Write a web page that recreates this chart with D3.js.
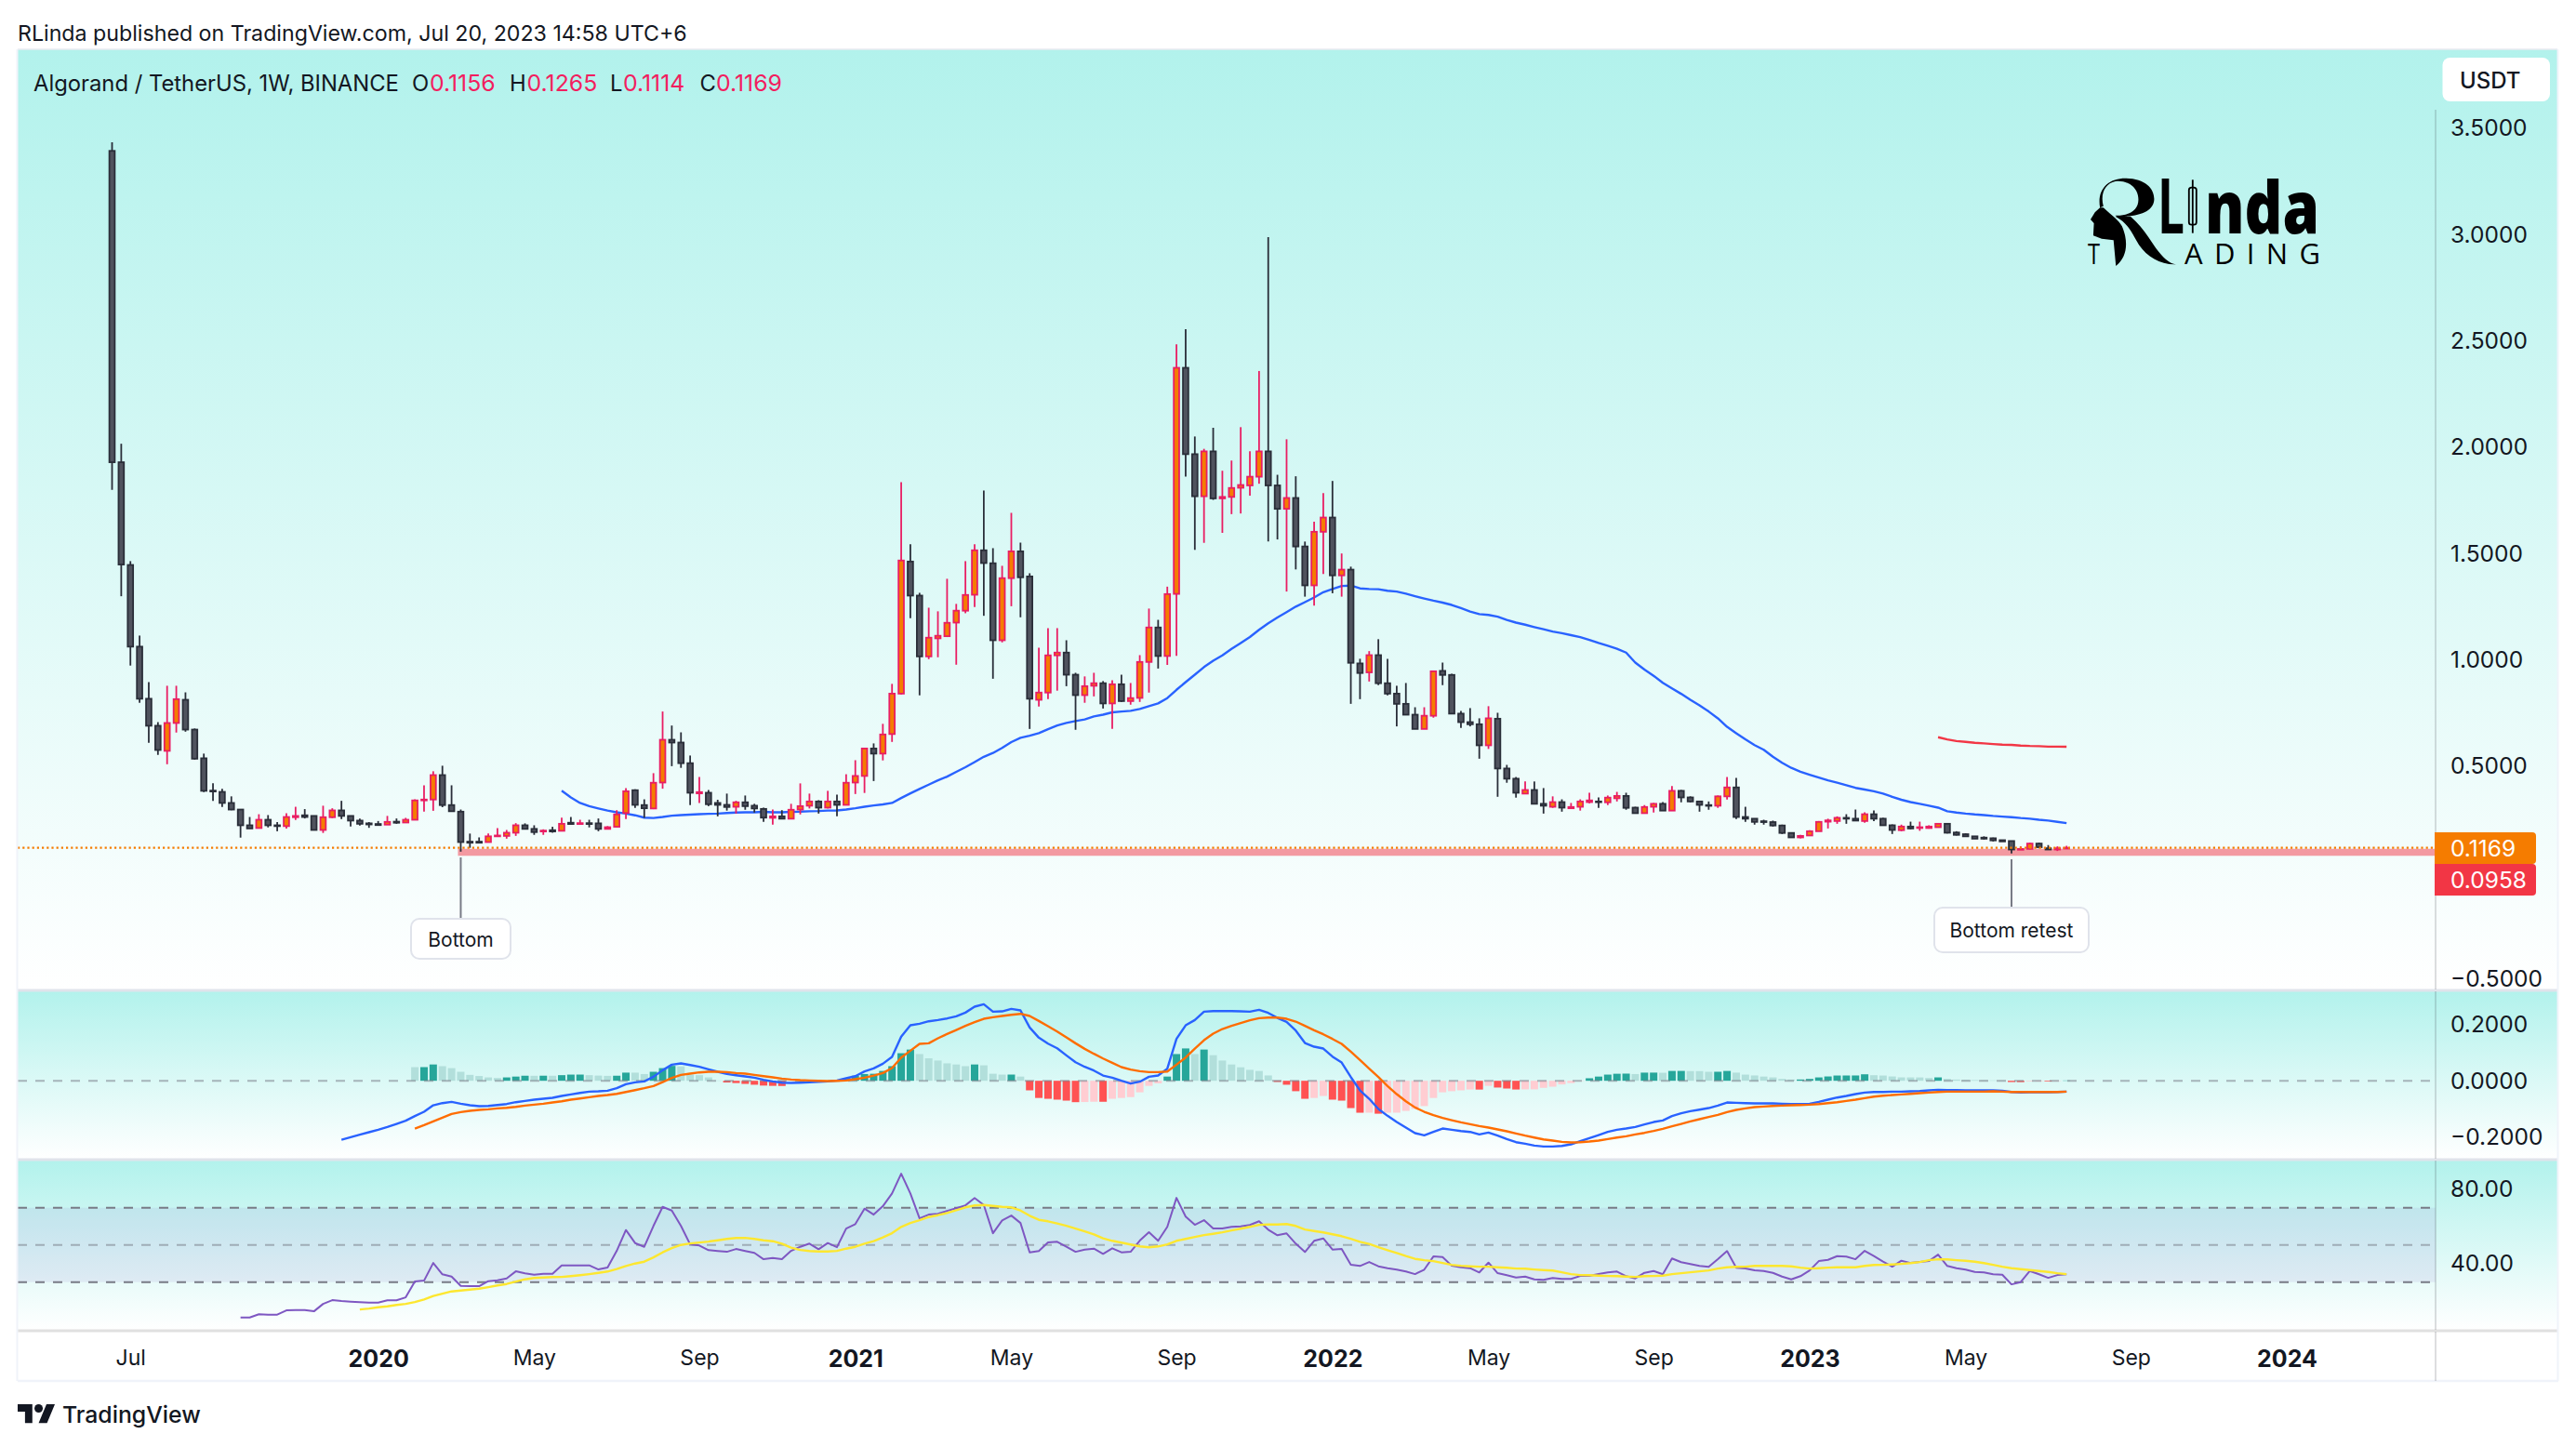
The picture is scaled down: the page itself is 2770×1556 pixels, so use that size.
<!DOCTYPE html>
<html>
<head>
<meta charset="utf-8">
<script src="https://cdn.jsdelivr.net/npm/d3@7"></script>
<style>
  html, body { margin: 0; padding: 0; background: #fff; }
  text { font-family: Inter, "Noto Sans", sans-serif; fill: #131722; }
</style>
</head>
<body>
<svg id="chart" width="2770" height="1556"></svg>
<script>
// weekly candles, first bar is the week of 17 Jun 2019
const opens = [
  3.394,1.93,1.447,1.063,.818,.691,.573,.704,.813,.673,
  .538,.386,.380,.328,.297,.223,.210,.249,.223,.219,
  .261,.270,.267,.201,.261,.293,.267,.245,.232,.229,
  .226,.240,.236,.249,.340,.344,.459,.318,.287,.146,
  .146,.144,.171,.173,.188,.223,.206,.194,.200,.197,
  .235,.229,.233,.232,.206,.216,.281,.388,.318,.302,
  .424,.625,.612,.515,.373,.376,.328,.319,.310,.331,
  .315,.300,.258,.265,.254,.297,.315,.335,.306,.335,
  .319,.424,.455,.584,.560,.652,.842,1.463,1.303,1.017,
  1.102,1.112,1.176,1.232,1.307,1.516,1.455,1.093,1.385,1.511,
  1.393,.813,.847,1.022,1.035,.931,.835,.879,.891,.796,
  .886,.807,.822,.991,1.153,1.019,1.311,2.374,1.968,1.770,
  1.981,1.760,1.767,1.810,1.821,1.862,1.981,1.821,1.711,1.762,
  1.534,1.351,1.603,1.670,1.398,1.425,.984,.942,1.023,.891,
  .842,.794,.743,.676,.738,.949,.930,.748,.708,.698,
  .599,.724,.490,.442,.372,.389,.324,.310,.332,.303,
  .310,.332,.335,.331,.350,.361,.306,.280,.310,.324,
  .292,.385,.354,.335,.318,.315,.359,.401,.262,.254,
  .242,.238,.222,.187,.166,.175,.195,.240,.243,.258,
  .254,.243,.275,.254,.223,.200,.217,.210,.210,.214,
  .230,.189,.181,.171,.165,.162,.153,.149,.108,.112,
  .137,.115,.109,.1156];
const highs = [
  3.434,2.017,1.465,1.115,.896,.708,.879,.879,.848,.678,
  .560,.421,.394,.359,.297,.262,.275,.271,.238,.280,
  .310,.299,.267,.315,.303,.338,.267,.254,.238,.243,
  .267,.255,.258,.345,.411,.477,.503,.411,.297,.184,
  .166,.184,.210,.201,.233,.232,.223,.204,.216,.259,
  .262,.249,.249,.255,.219,.294,.398,.392,.345,.468,
  .758,.692,.660,.551,.450,.389,.343,.372,.338,.363,
  .324,.306,.297,.294,.324,.420,.372,.341,.385,.367,
  .463,.529,.584,.608,.700,.888,1.836,1.544,1.316,1.246,
  1.229,1.382,1.264,1.465,1.544,1.797,1.526,1.443,1.692,1.552,
  1.408,1.058,1.150,1.150,1.093,.940,.923,.940,.901,.905,
  .931,.892,1.023,1.242,1.189,1.345,2.485,2.555,2.051,1.993,
  2.092,1.890,1.938,2.095,1.982,2.359,2.988,1.871,2.038,1.864,
  1.557,1.650,1.785,1.842,1.501,1.439,1.006,1.042,1.098,1.006,
  .879,.892,.778,.778,.947,.988,.936,.761,.774,.726,
  .783,.752,.507,.450,.429,.429,.398,.359,.345,.328,
  .345,.376,.354,.363,.380,.376,.310,.318,.328,.332,
  .407,.389,.359,.337,.335,.363,.450,.446,.310,.254,
  .249,.245,.226,.187,.178,.200,.243,.254,.265,.275,
  .297,.284,.293,.258,.227,.226,.240,.240,.223,.232,
  .232,.195,.185,.171,.171,.165,.153,.150,.124,.141,
  .141,.130,.124,.1265];
const lows = [
  1.80,1.30,.974,.799,.611,.554,.510,.659,.663,.532,
  .379,.338,.309,.294,.165,.208,.208,.213,.195,.208,
  .248,.255,.200,.187,.257,.252,.217,.222,.211,.222,
  .226,.230,.235,.248,.287,.291,.308,.287,.099,.117,
  .138,.143,.171,.160,.173,.206,.178,.178,.188,.195,
  .226,.226,.213,.195,.206,.214,.252,.305,.258,.299,
  .395,.501,.493,.318,.328,.313,.265,.292,.278,.296,
  .283,.239,.226,.254,.254,.274,.302,.278,.302,.265,
  .318,.370,.375,.431,.528,.615,.838,1.197,.834,1.004,
  1.013,1.108,.978,1.220,1.249,1.208,.912,1.083,1.253,1.201,
  .676,.781,.816,.856,.877,.672,.799,.829,.772,.676,
  .803,.790,.803,.847,.960,.977,1.020,1.862,1.518,1.551,
  1.753,1.598,1.686,1.689,1.773,1.829,1.557,1.567,1.322,1.426,
  1.298,1.256,1.404,1.314,1.298,.794,.816,.899,.882,.834,
  .688,.743,.676,.676,.729,.882,.748,.681,.688,.536,
  .582,.357,.423,.353,.369,.324,.278,.305,.287,.300,
  .292,.326,.305,.318,.335,.296,.280,.280,.283,.292,
  .292,.331,.331,.287,.296,.305,.344,.252,.239,.226,
  .226,.217,.182,.166,.162,.175,.195,.208,.230,.230,
  .243,.235,.243,.222,.182,.195,.204,.197,.207,.213,
  .184,.175,.169,.160,.156,.147,.147,.090,.108,.109,
  .115,.108,.102,.1114];
const closes = [
  1.93,1.449,1.063,.818,.691,.577,.704,.816,.673,.536,
  .385,.382,.328,.297,.223,.208,.249,.223,.219,.262,
  .267,.262,.201,.261,.293,.267,.245,.230,.227,.224,
  .239,.235,.249,.340,.344,.459,.318,.289,.144,.141,
  .141,.171,.175,.188,.223,.206,.191,.198,.194,.230,
  .229,.233,.229,.206,.214,.274,.383,.319,.303,.423,
  .625,.612,.515,.376,.379,.322,.319,.309,.331,.313,
  .302,.259,.265,.254,.296,.313,.335,.306,.335,.319,
  .423,.455,.584,.560,.650,.842,1.468,1.303,1.017,1.105,
  1.114,1.175,1.232,1.306,1.516,1.456,1.093,1.385,1.511,1.389,
  .818,.847,1.022,1.035,.931,.835,.877,.891,.796,.886,
  .807,.821,.991,1.153,1.019,1.310,2.374,1.968,1.770,1.981,
  1.760,1.767,1.809,1.823,1.862,1.981,1.821,1.711,1.762,1.534,
  1.351,1.603,1.670,1.398,1.425,.987,.939,1.023,.891,.842,
  .794,.743,.676,.738,.947,.930,.748,.708,.698,.599,
  .726,.490,.442,.376,.389,.324,.315,.332,.306,.309,
  .335,.340,.332,.353,.361,.305,.280,.309,.324,.292,
  .385,.354,.335,.319,.315,.359,.401,.262,.254,.239,
  .238,.222,.187,.166,.173,.195,.239,.246,.258,.254,
  .245,.275,.254,.223,.201,.217,.208,.214,.217,.230,
  .188,.178,.171,.160,.160,.152,.147,.109,.112,.137,
  .120,.109,.115,.1169];

// moving averages on the price pane (first value = bar number in the *Start const)
const maFastStart = 49;
const maFast = [
  .386,.354,.328,.313,.302,.292,.284,.278,.270,.259,
  .257,.262,.268,.271,.273,.275,.277,.278,.281,.283,
  .284,.284,.286,.284,.284,.286,.287,.289,.290,.292,
  .293,.297,.303,.310,.316,.321,.328,.351,.373,.394,
  .414,.434,.452,.474,.496,.520,.545,.563,.587,.614,
  .634,.644,.656,.675,.692,.704,.713,.721,.735,.743,
  .754,.758,.761,.770,.783,.796,.821,.860,.896,.931,
  .967,.997,1.022,1.052,1.080,1.108,1.142,1.173,1.200,1.225,
  1.251,1.272,1.294,1.319,1.334,1.348,1.350,1.337,1.334,1.333,
  1.326,1.322,1.312,1.300,1.289,1.279,1.270,1.259,1.244,1.228,
  1.216,1.212,1.204,1.189,1.176,1.166,1.155,1.145,1.134,1.126,
  1.117,1.108,1.095,1.080,1.067,1.053,1.035,.988,.955,.926,
  .893,.867,.841,.813,.787,.758,.726,.686,.656,.627,
  .600,.578,.545,.517,.493,.475,.461,.447,.434,.423,
  .411,.399,.391,.383,.372,.357,.343,.332,.324,.315,
  .306,.289,.283,.278,.274,.271,.267,.264,.261,.257,
  .254,.249,.245,.239,.233];
const maSlowStart = 199;
const maSlow = [.637,.627,.619,.615,.611,.608,.605,.602,.601,.598,.596,.595,.593,.593,.592];

// MACD pane
const macdStart = 25;
const macdLine = [
  -.2094,-.2006,-.1917,-.1829,-.1741,-.1642,-.1532,-.1421,-.1256,-.1102,
  -.0871,-.0793,-.0749,-.0815,-.0871,-.0904,-.0893,-.0860,-.0826,-.0760,
  -.0716,-.0672,-.0639,-.0606,-.0540,-.0485,-.0430,-.0386,-.0375,-.0353,
  -.0264,-.0121,-.0055,-.0022,.0143,.0375,.0573,.0617,.0562,.0496,
  .0408,.0320,.0242,.0198,.0154,.0110,.0033,-.0022,-.0066,-.0077,
  -.0066,-.0055,-.0033,-.0022,.0011,.0088,.0165,.0331,.0441,.0606,
  .0849,.1565,.1972,.2028,.2116,.2160,.2215,.2292,.2424,.2634,
  .2722,.2457,.2468,.2556,.2501,.1895,.1532,.1322,.1157,.0904,
  .0661,.0496,.0364,.0187,.0110,0,-.0099,-.0033,.0143,.0187,
  .0430,.1488,.1972,.2160,.2457,.2479,.2479,.2479,.2468,.2457,
  .2523,.2413,.2237,.2094,.1785,.1344,.1212,.1146,.0860,.0650,
  .0132,-.0342,-.0639,-.1003,-.1245,-.1466,-.1664,-.1862,-.1939,-.1818,
  -.1697,-.1741,-.1785,-.1818,-.1906,-.1840,-.1950,-.2072,-.2182,-.2237,
  -.2303,-.2336,-.2336,-.2314,-.2259,-.2149,-.2039,-.1928,-.1818,-.1741,
  -.1697,-.1642,-.1554,-.1466,-.1410,-.1256,-.1157,-.1080,-.1025,-.0970,
  -.0882,-.0771,-.0782,-.0793,-.0804,-.0804,-.0804,-.0815,-.0826,-.0826,
  -.0815,-.0749,-.0672,-.0595,-.0540,-.0474,-.0419,-.0397,-.0397,-.0386,
  -.0386,-.0375,-.0364,-.0342,-.0320,-.0331,-.0331,-.0342,-.0342,-.0342,
  -.0342,-.0353,-.0397,-.0419,-.0408,-.0408,-.0408,-.0397,-.0386];
const signalStart = 33;
const signalLine = [
  -.1697,-.1576,-.1444,-.1311,-.1179,-.1113,-.1069,-.1036,-.1014,-.0981,
  -.0959,-.0926,-.0882,-.0849,-.0815,-.0771,-.0727,-.0672,-.0628,-.0584,
  -.0540,-.0507,-.0463,-.0397,-.0331,-.0264,-.0187,-.0044,.0099,.0209,
  .0253,.0298,.0320,.0320,.0309,.0276,.0253,.0209,.0165,.0121,
  .0077,.0044,.0022,.0011,0,-.0011,0,.0011,.0055,.0110,
  .0187,.0276,.0452,.0827,.1069,.1311,.1333,.1510,.1664,.1807,
  .1951,.2083,.2204,.2259,.2303,.2347,.2380,.2303,.2127,.1940,
  .1752,.1543,.1333,.1135,.0959,.0793,.0639,.0485,.0397,.0342,
  .0309,.0309,.0331,.0573,.0827,.1146,.1444,.1675,.1840,.1951,
  .2050,.2149,.2226,.2248,.2248,.2204,.2105,.1951,.1796,.1653,
  .1488,.1311,.1036,.0738,.0430,.0132,-.0187,-.0474,-.0727,-.0948,
  -.1102,-.1223,-.1322,-.1400,-.1477,-.1543,-.1609,-.1664,-.1730,-.1796,
  -.1873,-.1950,-.2017,-.2083,-.2127,-.2171,-.2193,-.2182,-.2160,-.2127,
  -.2072,-.2017,-.1973,-.1906,-.1851,-.1785,-.1708,-.1620,-.1532,-.1444,
  -.1366,-.1289,-.1212,-.1113,-.1036,-.0981,-.0937,-.0915,-.0893,-.0882,
  -.0871,-.0860,-.0849,-.0826,-.0793,-.0760,-.0716,-.0672,-.0617,-.0562,
  -.0529,-.0507,-.0485,-.0463,-.0441,-.0419,-.0397,-.0386,-.0386,-.0386,
  -.0386,-.0386,-.0375,-.0386,-.0397,-.0397,-.0397,-.0397,-.0397,-.0397,-.0386];
const histStart = 33;
const histValues = [
  .0485,.0486,.058,.052,.045,.032,.021,.017,.012,.010,
  .012,.015,.018,.0178,.0181,.0179,.020,.022,.0221,.020,
  .0185,.0175,.018,.029,.0289,.024,.032,.045,.053,.051,
  .022,.020,.012,.001,-.006,-.008,-.011,-.014,-.017,-.018,
  -.0185,-.001,-.0005,0,.0002,.0004,.0008,.009,.018,.024,
  .025,.035,.052,.098,.111,.095,.080,.072,.062,.058,
  .052,.058,.055,.025,.022,.0221,.015,-.034,-.061,-.064,
  -.067,-.0705,-.076,-.0755,-.0745,-.0746,-.064,-.061,-.058,-.041,
  -.018,-.009,.015,.095,.115,.095,.111,.091,.072,.058,
  .048,.039,.035,.019,-.004,-.014,-.037,-.064,-.061,-.054,
  -.067,-.0705,-.097,-.1135,-.1134,-.117,-.1135,-.1134,-.107,-.100,
  -.090,-.061,-.041,-.037,-.034,-.031,-.0312,-.018,-.024,-.0275,
  -.031,-.0305,-.0304,-.025,-.021,-.013,-.008,-.001,.009,.015,
  .022,.025,.0255,.024,.029,.0291,.0285,.035,.0351,.0345,
  .0344,.032,.0321,.035,.029,.022,.019,.015,.012,.0066,
  .0044,.0046,.0066,.012,.0154,.0187,.0188,.0189,.0231,.0198,
  .0187,.0154,.0121,.0120,.0119,.0099,.0121,.0066,.0044,.0033,
  .0025,.0020,.0015,.0010,-.0044,-.0046,-.0022,-.0021,-.0024,-.0012,.0011];

// RSI pane
const rsiStart = 14;
const rsiValues = [
  11.0,11.0,12.7,12.5,12.5,14.8,15.0,15.0,14.3,18.3,
  20.3,19.8,19.5,19.2,19.0,19.0,20.2,20.2,21.8,30.3,
  30.8,40.3,34.2,33.0,28.0,27.8,27.8,30.5,31.0,32.0,
  35.8,34.7,34.0,34.5,34.5,39.0,39.0,39.0,39.0,36.8,
  37.8,46.8,58.0,51.0,49.0,60.2,70.5,68.5,60.2,50.3,
  49.7,47.2,46.7,46.3,47.8,46.7,45.7,42.3,43.0,42.3,
  46.8,49.0,50.7,47.7,51.0,48.8,58.8,61.2,69.5,66.3,
  70.8,77.7,88.3,77.7,64.3,66.3,66.7,68.3,69.7,71.3,
  75.2,71.5,56.3,63.2,65.8,61.8,46.0,46.7,51.3,51.7,
  49.0,46.3,47.5,48.0,45.2,48.2,46.0,46.3,52.3,56.8,
  52.2,59.7,75.3,65.2,60.8,63.3,58.8,58.8,59.7,60.0,
  60.7,62.7,58.2,55.2,56.2,50.7,46.2,52.2,53.5,47.5,
  47.8,39.3,38.7,40.8,38.5,37.5,36.7,35.7,34.3,36.7,
  43.8,43.5,38.8,38.0,37.5,35.2,40.5,34.8,33.7,32.5,
  33.0,31.5,31.2,32.2,31.7,31.7,33.3,33.3,34.3,35.2,
  35.7,33.2,32.0,35.0,36.0,34.2,42.7,40.7,39.7,38.7,
  38.2,42.3,46.7,37.7,37.3,36.3,36.0,35.0,33.0,31.5,
  33.2,36.3,41.3,42.0,44.0,43.7,42.3,46.8,44.0,41.0,
  38.3,41.5,40.3,40.8,41.3,44.8,38.7,37.5,36.7,35.5,
  35.2,34.2,34.0,28.8,30.0,36.0,34.2,32.3,33.8,34.2];
const rsiMaStart = 27;
const rsiMa = [
  15.3,15.8,16.5,17.0,17.7,18.3,19.3,20.7,22.5,23.8,
  25.0,25.5,26.0,26.5,27.3,28.2,29.0,30.3,31.5,32.2,
  32.5,32.7,32.8,33.2,33.7,34.3,35.0,35.7,37.0,38.7,
  40.0,41.0,43.3,46.0,48.3,50.0,50.8,51.3,51.8,52.5,
  53.2,53.7,53.8,53.2,52.5,52.0,50.7,48.5,47.3,46.7,
  46.5,46.5,46.8,48.0,49.0,50.7,52.0,54.0,56.3,59.7,
  61.8,63.3,65.0,66.0,67.2,68.7,70.2,71.2,71.5,71.0,
  70.5,70.2,68.5,65.7,63.5,62.7,61.5,60.3,58.8,57.3,
  55.7,53.5,52.2,51.2,50.2,49.2,48.7,49.2,50.3,52.2,
  53.2,54.3,55.3,56.0,56.8,57.8,58.7,59.7,60.8,61.0,
  61.0,61.2,60.2,58.3,57.5,56.7,55.7,54.7,53.3,51.7,
  50.5,48.8,47.2,45.7,44.0,42.5,41.8,41.3,40.3,39.3,
  38.8,38.5,38.3,38.3,38.0,37.7,37.3,37.2,36.8,36.5,
  36.2,35.3,34.3,33.8,33.7,33.5,33.3,33.2,33.0,32.8,
  33.2,33.3,33.5,34.3,34.8,35.3,35.8,36.3,37.3,38.0,
  38.2,38.3,38.7,38.8,38.7,38.7,38.5,37.8,37.3,37.5,
  37.8,38.0,38.0,38.0,38.7,39.2,39.3,39.5,39.8,40.2,
  40.8,41.8,42.3,42.2,41.8,41.5,41.0,40.2,39.3,38.3,
  37.5,37.0,36.5,36.0,35.5,34.8,34.3];
const rsiLevels = [70, 50, 30];

// axes
const priceTicks = [3.5, 3, 2.5, 2, 1.5, 1, 0.5, -0.5];
const macdTicks = [0.2, 0, -0.2];
const rsiTicks = [80, 40];
const timeTicks = ["2019-07-01","2020-01-06","2020-05-04","2020-09-07","2021-01-04","2021-05-03","2021-09-06",
                   "2022-01-03","2022-05-02","2022-09-05","2023-01-02","2023-05-01","2023-09-04","2024-01-01"];
const timeLabels = ["Jul","2020","May","Sep","2021","May","Sep","2022","May","Sep","2023","May","Sep","2024"];

const zoneLevel = 0.0958;
const bottomBar = 38, retestBar = 207;

// layout
const left = 19, right = 2750, axisX = 2619;
const mainPane = {top: 53, bottom: 1065};
const macdPane = {top: 1065, bottom: 1247};
const rsiPane = {top: 1247, bottom: 1431};
const timeBottom = 1485;

const colors = {up: "#f57c00", upEdge: "#e91e63", down: "#50535e", downEdge: "#2a2e39",
                blue: "#2962ff", red: "#f23645", orange: "#ff6d00", purple: "#7e57c2", yellow: "#fde72f",
                text: "#131722", pink: "#f21e5f", grid: "#787b86", sep: "#e0e3eb"};

const weekDate = i => new Date(Date.UTC(2019, 5, 17) + i * 7 * 864e5);

const svg = d3.select("#chart");

const x = d3.scaleUtc().domain([weekDate(0), weekDate(237)]).range([120.5, 2459]);
const yPrice = d3.scaleLinear().domain([3.5, -0.5]).range([138, 1052.8]);
const yMacd = d3.scaleLinear().domain([0.2, -0.2]).range([1101.7, 1222.7]);
const yRsi = d3.scaleLinear().domain([80, 40]).range([1278.7, 1358.7]);

// backgrounds
const grad = svg.append("defs").append("linearGradient")
    .attr("id", "paneFill").attr("x1", 0).attr("y1", 0).attr("x2", 0).attr("y2", 1);
grad.append("stop").attr("offset", 0).attr("stop-color", "#b2f2ec");
grad.append("stop").attr("offset", 1).attr("stop-color", "#ffffff");

svg.selectAll("rect.pane").data([mainPane, macdPane, rsiPane])
    .enter().append("rect").attr("class", "pane")
    .attr("x", left).attr("y", d => d.top)
    .attr("width", right - left).attr("height", d => d.bottom - d.top)
    .attr("fill", "url(#paneFill)");

// rsi band
svg.append("rect")
    .attr("x", left).attr("width", axisX - left)
    .attr("y", yRsi(rsiLevels[0])).attr("height", yRsi(rsiLevels[2]) - yRsi(rsiLevels[0]))
    .attr("fill", "#7e57c2").attr("fill-opacity", 0.1);

const lineOn = (y, start) => d3.line()
    .x((d, i) => x(weekDate(start + i)))
    .y(d => y(d));

let drawLine = (values, y, start, color, width) => svg.append("path")
    .attr("d", lineOn(y, start)(values))
    .attr("fill", "none").attr("stroke", color).attr("stroke-width", width)
    .attr("stroke-linejoin", "round");

// support zone under the candles
svg.append("line")
    .attr("x1", x(weekDate(bottomBar)) - 3).attr("x2", axisX)
    .attr("y1", yPrice(zoneLevel)).attr("y2", yPrice(zoneLevel))
    .attr("stroke", colors.red).attr("stroke-opacity", 0.5).attr("stroke-width", 7.5);

drawLine(maFast, yPrice, maFastStart, colors.blue, 2.4);
drawLine(maSlow, yPrice, maSlowStart, colors.red, 2.4);

// candles
const bars = d3.range(closes.length);
const candle = svg.append("g").selectAll("g").data(bars).enter().append("g");
candle.append("line")
    .attr("x1", i => x(weekDate(i))).attr("x2", i => x(weekDate(i)))
    .attr("y1", i => yPrice(highs[i])).attr("y2", i => yPrice(lows[i]))
    .attr("stroke", i => closes[i] >= opens[i] ? colors.upEdge : colors.downEdge)
    .attr("stroke-width", 1.8);
candle.append("rect")
    .attr("x", i => x(weekDate(i)) - 2.9).attr("width", 5.8)
    .attr("y", i => yPrice(Math.max(opens[i], closes[i])))
    .attr("height", i => Math.max(0.8, Math.abs(yPrice(opens[i]) - yPrice(closes[i]))))
    .attr("fill", i => closes[i] >= opens[i] ? colors.up : colors.down)
    .attr("stroke", i => closes[i] >= opens[i] ? colors.upEdge : colors.downEdge)
    .attr("stroke-width", 1.8);

// last price dotted line
svg.append("line")
    .attr("x1", left).attr("x2", axisX)
    .attr("y1", yPrice(closes[closes.length - 1])).attr("y2", yPrice(closes[closes.length - 1]))
    .attr("stroke", colors.up).attr("stroke-width", 2.2).attr("stroke-dasharray", "2.2 3");

// macd
const histColor = (d, i) => {
    const prev = i > 0 ? histValues[i - 1] : Infinity;
    if (d >= 0) return d > prev ? "#26a69a" : "#b2dfdb";
    return d < prev ? "#ff5252" : "#ffcdd2";
};
svg.append("g").selectAll("rect").data(histValues).enter().append("rect")
    .attr("x", (d, i) => x(weekDate(histStart + i)) - 4).attr("width", 8)
    .attr("y", d => Math.min(yMacd(d), yMacd(0)))
    .attr("height", d => Math.abs(yMacd(d) - yMacd(0)))
    .attr("fill", histColor);

svg.append("line")
    .attr("x1", left).attr("x2", axisX).attr("y1", yMacd(0)).attr("y2", yMacd(0))
    .attr("stroke", colors.grid).attr("stroke-opacity", 0.55).attr("stroke-width", 2).attr("stroke-dasharray", "10 9");
drawLine(macdLine, yMacd, macdStart, colors.blue, 2.4);
drawLine(signalLine, yMacd, signalStart, colors.orange, 2.4);

// rsi
svg.selectAll("line.level").data(rsiLevels).enter().append("line").attr("class", "level")
    .attr("x1", left).attr("x2", axisX)
    .attr("y1", d => yRsi(d)).attr("y2", d => yRsi(d))
    .attr("stroke", colors.grid).attr("stroke-width", 2)
    .attr("stroke-opacity", d => d === 50 ? 0.55 : 1).attr("stroke-dasharray", "10 9");
drawLine(rsiValues, yRsi, rsiStart, colors.purple, 2);
drawLine(rsiMa, yRsi, rsiMaStart, colors.yellow, 2.4);

// separators and borders
const hLines = [[left, right, mainPane.top, "#e8eaf0", 1.5], [left, right + 1, mainPane.bottom, "#e0e3eb", 3],
                [left, right + 1, macdPane.bottom, "#e0e3eb", 3], [left, right + 1, rsiPane.bottom, "#e0e0e0", 3],
                [left, right + 1, timeBottom, "#f0f3fa", 2.5]];
svg.selectAll("line.sep").data(hLines).enter().append("line").attr("class", "sep")
    .attr("x1", d => d[0]).attr("x2", d => d[1]).attr("y1", d => d[2]).attr("y2", d => d[2])
    .attr("stroke", d => d[3]).attr("stroke-width", d => d[4]);
const vLines = [[left - 0.5, 53, timeBottom, "#f0f3fa"], [right + 0.5, 53, timeBottom, "#f0f3fa"],
                [axisX, 118, mainPane.bottom - 1, "#2a2e39"], [axisX, macdPane.top + 1, macdPane.bottom - 1, "#2a2e39"],
                [axisX, rsiPane.top + 1, rsiPane.bottom - 1, "#2a2e39"], [axisX, rsiPane.bottom + 1, timeBottom, "#2a2e39"]];
svg.selectAll("line.vsep").data(vLines).enter().append("line").attr("class", "vsep")
    .attr("x1", d => d[0]).attr("x2", d => d[0]).attr("y1", d => d[1]).attr("y2", d => d[2])
    .attr("stroke", d => d[3]).attr("stroke-opacity", d => d[3] === "#2a2e39" ? 0.16 : 1).attr("stroke-width", 2);

// y axes
let yAxis = (scale, ticks, fmt) => {
    const g = svg.append("g").attr("transform", `translate(${axisX}, 0)`)
        .call(d3.axisRight(scale).tickValues(ticks).tickFormat(fmt).tickSize(0).tickPadding(16));
    g.select(".domain").remove();
    g.selectAll("text").attr("font-size", 24.5).attr("font-family", "Inter").style("fill", colors.text);
    return g;
};
yAxis(yPrice, priceTicks, d3.format(".4f"));
yAxis(yMacd, macdTicks, d3.format(".4f"));
yAxis(yRsi, rsiTicks, d3.format(".2f"));

// time axis
const timeDates = timeTicks.map(d => new Date(d + "T00:00:00Z"));
const isYear = i => /^\d/.test(timeLabels[i]);
const tAxis = svg.append("g").attr("transform", `translate(0, ${rsiPane.bottom})`)
    .call(d3.axisBottom(x).tickValues(timeDates).tickFormat((d, i) => timeLabels[i]).tickSize(0).tickPadding(21));
tAxis.select(".domain").remove();
tAxis.selectAll("text").attr("font-family", "Inter").style("fill", colors.text)
    .attr("font-size", (d, i) => isYear(i) ? 25 : 23)
    .attr("font-weight", (d, i) => isYear(i) ? 700 : 400);

// top texts
svg.append("text").attr("x", 19).attr("y", 44).attr("font-size", 23.2).text("RLinda published on TradingView.com, Jul 20, 2023 14:58 UTC+6");
svg.append("text").attr("x", 36).attr("y", 98).attr("font-size", 23.8).text("Algorand / TetherUS, 1W, BINANCE");

const last = closes.length - 1;
const fmt4 = d3.format(".4f");
const ohlc = [["O", opens[last], 443, 462], ["H", highs[last], 548, 566.6], ["L", lows[last], 656, 670], ["C", closes[last], 752.5, 770]];
ohlc.forEach(d => {
    svg.append("text").attr("x", d[2]).attr("y", 98).attr("font-size", 23.8).text(d[0]);
    svg.append("text").attr("x", d[3]).attr("y", 98).attr("font-size", 24.8).style("fill", colors.pink).text(fmt4(d[1]));
});

// currency button
svg.append("rect").attr("x", 2626.5).attr("y", 62).attr("width", 115.5).attr("height", 47).attr("rx", 8).attr("fill", "#fff");
svg.append("text").attr("x", 2645).attr("y", 95).attr("font-size", 24).attr("font-weight", 500).text("USDT");

// price tags
const tags = [[closes[last], 895, colors.up], [zoneLevel, 929, colors.red]];
tags.forEach(d => {
    svg.append("path")
        .attr("d", `M${axisX - 1},${d[1]}h105a4,4 0 0 1 4,4v26a4,4 0 0 1 -4,4h-105z`).attr("fill", d[2]);
    svg.append("text").attr("x", 2635).attr("y", d[1] + 26).attr("font-size", 24.5).style("fill", "#fff").text(fmt4(d[0]));
});

// callouts
let callout = (bar, lineTop, boxLeft, boxRight, boxTop, boxBottom, label) => {
    svg.append("line").attr("x1", x(weekDate(bar))).attr("x2", x(weekDate(bar)))
        .attr("y1", lineTop).attr("y2", boxTop)
        .attr("stroke", "#787b86").attr("stroke-width", 2);
    svg.append("rect").attr("x", boxLeft).attr("y", boxTop)
        .attr("width", boxRight - boxLeft).attr("height", boxBottom - boxTop).attr("rx", 9)
        .attr("fill", "#fff").attr("stroke", "#e0e3eb").attr("stroke-width", 2);
    svg.append("text").attr("x", (boxLeft + boxRight) / 2).attr("y", (boxTop + boxBottom) / 2 + 8)
        .attr("text-anchor", "middle").attr("font-size", 21).text(label);
};
callout(bottomBar, 922, 442, 549, 988, 1031, "Bottom");
callout(retestBar, 924, 2080, 2246, 976, 1024, "Bottom retest");

// RLinda logo, drawn in the zoomed grid then squeezed to page pixels
const logo = svg.append("g").attr("transform", "translate(2200, 0) scale(0.3636, 0.3333)");
logo.append("path").attr("fill", "#000").attr("d",
    "M160 670C150 610 185 575 235 575C295 575 322 610 320 645C318 680 280 700 210 698L205 695C255 697 280 670 272 630C265 595 230 580 205 585C175 592 160 625 170 665Z" +
    "M160 670L145 685L132 708L142 720L140 760L165 770L200 775L207 858C240 830 245 780 225 730C215 710 200 700 170 670Z" +
    "M205 698L250 698C280 725 300 760 325 800C345 830 365 850 385 853C340 855 300 830 275 790C255 755 245 720 205 698Z");
logo.append("rect").attr("x", 423).attr("y", 605).attr("width", 22).attr("height", 120).attr("rx", 8)
    .attr("fill", "none").attr("stroke", "#000").attr("stroke-width", 5);
logo.append("line").attr("x1", 434).attr("x2", 434).attr("y1", 580).attr("y2", 752).attr("stroke", "#000").attr("stroke-width", 5);

let logoText = (str, xPos, y, size, weight, len, adjust) => svg.append("text")
    .attr("x", xPos).attr("y", y).attr("font-size", size).attr("font-weight", weight)
    .attr("font-family", "Open Sans").style("font-family", "Open Sans").style("fill", "#000")
    .attr("textLength", len).attr("lengthAdjust", adjust).text(str);
logoText("L", 2320, 251, 83, 700, 29, "spacingAndGlyphs");
logoText("nda", 2371, 251, 78, 800, 123, "spacingAndGlyphs");
logoText("T", 2245, 284, 31, 400, 13, "spacingAndGlyphs");
logoText("ADING", 2349, 284, 31, 400, 146, "spacing");

// footer
const tv = svg.append("g").attr("transform", "translate(19, 1505.5) scale(1.127)");
tv.append("path").attr("fill", "#131722").attr("d", "M14 22H7V11H0V4h14v18zM28 22h-8l7.5-18h8L28 22z");
tv.append("circle").attr("cx", 20).attr("cy", 8).attr("r", 4).attr("fill", "#131722");
svg.append("text").attr("x", 67).attr("y", 1530).attr("font-size", 24.8).attr("font-weight", 500).text("TradingView");
</script>
</body>
</html>
